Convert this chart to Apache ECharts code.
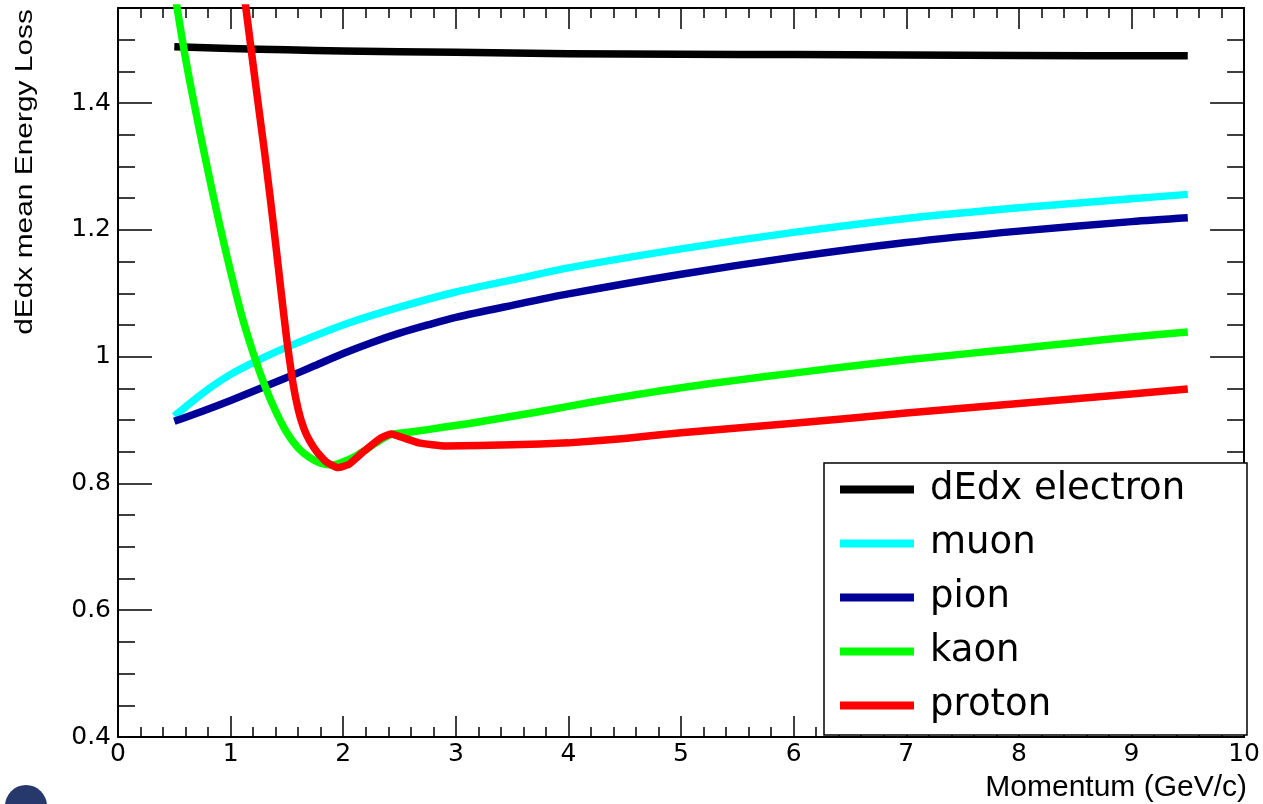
<!DOCTYPE html>
<html>
<head>
<meta charset="utf-8">
<script src="https://cdn.jsdelivr.net/npm/echarts@6/dist/echarts.min.js"></script>
<style>
html,body{margin:0;padding:0;background:#fff;}
#chart{width:1263px;height:804px;}
</style>
</head>
<body>
<div id="chart"></div>
<script>
// ---- data ----
const xTicks = ['0','1','2','3','4','5','6','7','8','9','10'];
const yTicks = ['0.4','0.6','0.8','1','1.2','1.4'];

const electronP = [0.5, 1.0, 1.5, 2.0, 3.0, 4.0, 5.0, 6.0, 7.0, 8.0, 9.5];
const electronY = [1.489, 1.486, 1.484, 1.482, 1.480, 1.478, 1.477, 1.4765, 1.476, 1.475, 1.4748];

const muonP = [0.5, 0.75, 1.0, 1.25, 1.5, 2.0, 2.5, 3.0, 3.5, 4.0, 5.0, 6.0, 7.0, 8.0, 9.0, 9.5];
const muonY = [0.906, 0.942, 0.972, 0.995, 1.015, 1.050, 1.078, 1.102, 1.121, 1.140, 1.170, 1.196, 1.218, 1.235, 1.249, 1.256];

const pionP = [0.5, 0.75, 1.0, 1.25, 1.5, 1.75, 2.0, 2.25, 2.5, 2.75, 3.0, 3.5, 4.0, 5.0, 6.0, 7.0, 8.0, 9.0, 9.5];
const pionY = [0.898, 0.914, 0.931, 0.949, 0.967, 0.986, 1.005, 1.022, 1.037, 1.050, 1.062, 1.081, 1.099, 1.130, 1.157, 1.180, 1.198, 1.213, 1.219];

const kaonP = [0.5, 0.6, 0.7, 0.8, 0.9, 1.0, 1.1, 1.2, 1.3, 1.4, 1.5, 1.6, 1.7, 1.8, 1.9, 2.0, 2.1, 2.2, 2.3, 2.42, 2.6, 2.9, 3.2, 3.7, 4.2, 4.6, 5.0, 5.5, 6.0, 6.5, 7.0, 7.5, 8.0, 8.5, 9.0, 9.5];
const kaonY = [1.578, 1.470, 1.378, 1.292, 1.210, 1.134, 1.064, 1.006, 0.956, 0.914, 0.880, 0.856, 0.841, 0.832, 0.829, 0.834, 0.842, 0.853, 0.865, 0.877, 0.881, 0.889, 0.897, 0.912, 0.928, 0.940, 0.951, 0.963, 0.974, 0.985, 0.995, 1.004, 1.013, 1.022, 1.031, 1.039];

const protonP = [1.10, 1.15, 1.20, 1.25, 1.30, 1.35, 1.40, 1.45, 1.50, 1.55, 1.60, 1.65, 1.70, 1.77, 1.85, 1.95, 2.05, 2.18, 2.32, 2.42, 2.67, 2.91, 3.5, 4.0, 4.5, 5.0, 6.0, 7.0, 8.0, 9.0, 9.5];
const protonY = [1.600, 1.530, 1.460, 1.392, 1.325, 1.253, 1.178, 1.100, 1.025, 0.962, 0.917, 0.887, 0.868, 0.849, 0.834, 0.825, 0.830, 0.850, 0.870, 0.878, 0.864, 0.859, 0.861, 0.864, 0.871, 0.880, 0.895, 0.911, 0.926, 0.941, 0.949];

const seriesNames = ['dEdx electron', 'muon', 'pion', 'kaon', 'proton'];
const seriesColors = ['#000000', '#00ffff', '#000099', '#00ff00', '#ff0000'];

// ---- chart ----
const FONT = '"Liberation Sans", Arial, Helvetica, sans-serif';
const WFONT = '"DejaVu Sans", "Liberation Sans", sans-serif';
const zip = (xs, ys) => xs.map((x, i) => [x, ys[i]]);
const sets = [
  zip(electronP, electronY),
  zip(muonP, muonY),
  zip(pionP, pionY),
  zip(kaonP, kaonY),
  zip(protonP, protonY)
];
const smoothVals = [0.3, 0.3, 0.3, 0.3, 0.12];

const chart = echarts.init(document.getElementById('chart'), null, {renderer: 'canvas'});

const tickStyle = {color: '#000', width: 1.5};
const baseX = {
  type: 'value', min: 0, max: 10, interval: 1,
  axisLine: {show: true, onZero: false, lineStyle: {color: '#000', width: 2}},
  splitLine: {show: false},
  minorSplitLine: {show: false}
};
const baseY = {
  type: 'value', min: 0.4, max: 1.55, interval: 0.2,
  axisLine: {show: true, onZero: false, lineStyle: {color: '#000', width: 2}},
  splitLine: {show: false},
  minorSplitLine: {show: false}
};
const yLabelFmt = v => {
  const idx = yTicks.findIndex(t => Math.abs(parseFloat(t) - v) < 1e-6);
  return idx >= 0 ? yTicks[idx] : '';
};
const xLabelFmt = v => {
  const idx = xTicks.findIndex(t => Math.abs(parseFloat(t) - v) < 1e-6);
  return idx >= 0 ? xTicks[idx] : '';
};

const option = {
  animation: false,
  backgroundColor: '#ffffff',
  grid: {left: 118, right: 16, top: 8, bottom: 67, show: false, containLabel: false},
  xAxis: [
    Object.assign({}, baseX, {
      position: 'bottom',
      axisTick: {show: true, inside: true, length: 21, lineStyle: tickStyle},
      minorTick: {show: true, splitNumber: 5, length: 10, lineStyle: tickStyle},
      axisLabel: {show: true, color: '#000', fontSize: 25, fontFamily: WFONT, margin: 5,
                  formatter: xLabelFmt, showMinLabel: true, showMaxLabel: true, hideOverlap: false}
    }),
    Object.assign({}, baseX, {
      position: 'top',
      axisTick: {show: true, inside: true, length: 21, lineStyle: tickStyle},
      minorTick: {show: true, splitNumber: 5, length: 10, lineStyle: tickStyle},
      axisLabel: {show: false}
    })
  ],
  yAxis: [
    Object.assign({}, baseY, {
      position: 'left',
      axisTick: {show: true, inside: true, length: 34, lineStyle: tickStyle},
      minorTick: {show: true, splitNumber: 4, length: 17, lineStyle: tickStyle},
      axisLabel: {show: true, color: '#000', fontSize: 25, fontFamily: WFONT, margin: 7,
                  formatter: yLabelFmt, showMinLabel: true, showMaxLabel: false, hideOverlap: false}
    }),
    Object.assign({}, baseY, {
      position: 'right',
      axisTick: {show: true, inside: true, length: 34, lineStyle: tickStyle},
      minorTick: {show: true, splitNumber: 4, length: 17, lineStyle: tickStyle},
      axisLabel: {show: false}
    })
  ],
  legend: {
    show: true,
    orient: 'vertical',
    left: 840,
    top: 471,
    padding: 0,
    itemGap: 17,
    itemWidth: 74,
    itemHeight: 8,
    icon: 'rect',
    z: 12,
    selectedMode: false,
    textStyle: {color: '#000', fontSize: 37, fontFamily: WFONT, padding: [0, 0, 0, 11]},
    data: seriesNames
  },
  graphic: [
    {
      type: 'rect', z: 11,
      shape: {x: 824, y: 463, width: 423, height: 272},
      style: {fill: '#ffffff', stroke: '#000000', lineWidth: 1.5}
    },
    {
      type: 'text', z: 12,
      x: 26, y: 9, rotation: Math.PI / 2, scaleX: 1.3, scaleY: 1,
      style: {text: 'dEdx mean Energy Loss', fill: '#000', fontSize: 23, fontFamily: FONT,
              textAlign: 'right', textVerticalAlign: 'middle', align: 'right', verticalAlign: 'middle'}
    },
    {
      type: 'text', z: 12,
      x: 1247, y: 788,
      style: {text: 'Momentum (GeV/c)', fill: '#000', fontSize: 30, fontFamily: FONT,
              textAlign: 'right', textVerticalAlign: 'middle', align: 'right', verticalAlign: 'middle'}
    },
    {
      type: 'circle', z: 12,
      shape: {cx: 26, cy: 806, r: 21},
      style: {fill: '#27396c'}
    }
  ],
  series: sets.map((d, i) => ({
    name: seriesNames[i],
    type: 'line',
    xAxisIndex: 0,
    yAxisIndex: 0,
    data: d,
    showSymbol: false,
    symbol: 'none',
    smooth: smoothVals[i],
    clip: true,
    z: 2 + i * 0.01,
    color: seriesColors[i],
    itemStyle: {color: seriesColors[i]},
    lineStyle: {color: seriesColors[i], width: 7.5, cap: 'butt', join: 'round'}
  }))
};
chart.setOption(option);
</script>
</body>
</html>
